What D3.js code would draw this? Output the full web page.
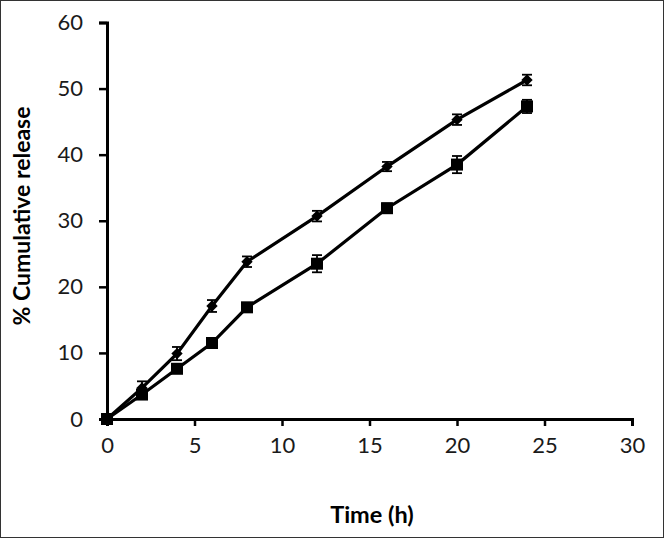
<!DOCTYPE html>
<html><head><meta charset="utf-8">
<script src="https://cdn.jsdelivr.net/npm/d3@7"></script>
<style>body{margin:0;background:#fff}svg{display:block}</style>
</head><body>
<script>
const times = [0, 2, 4, 6, 8, 12, 16, 20, 24];
const seriesA = [0, 4.7, 9.9, 17.1, 23.8, 30.7, 38.2, 45.3, 51.3];
const errA = [0.3, 1.0, 1.0, 0.9, 0.8, 0.8, 0.7, 0.8, 0.8];
const seriesB = [0, 3.7, 7.6, 11.5, 16.9, 23.5, 31.9, 38.5, 47.3];
const errB = [0.3, 0.4, 0.4, 0.5, 0.5, 1.3, 0.7, 1.3, 1.0];
const xTicks = [0, 5, 10, 15, 20, 25, 30];
const yTicks = [0, 10, 20, 30, 40, 50, 60];

const W = 664, H = 538;
const svg = d3.select("body").append("svg").attr("width", W).attr("height", H);
svg.append("rect").attr("x",0.5).attr("y",0.5).attr("width",W-1).attr("height",H-1)
  .attr("fill","#fff").attr("stroke","#333").attr("stroke-width",1);

const x = d3.scaleLinear().domain([0,30]).range([107,632]);
const y = d3.scaleLinear().domain([0,60]).range([419,22.5]);
const font = "Lato, 'Open Sans', sans-serif";

const xAxis = svg.append("g").attr("transform",`translate(0,${y(0)})`)
  .call(d3.axisBottom(x).tickValues(xTicks).tickSize(7).tickSizeOuter(7).tickPadding(11));
const yAxis = svg.append("g").attr("transform",`translate(${x(0)},0)`)
  .call(d3.axisLeft(y).tickValues(yTicks).tickSize(8).tickSizeOuter(8).tickPadding(16));
[xAxis,yAxis].forEach(a=>{
  a.select(".domain").attr("stroke","#000").attr("stroke-width",3);
  a.selectAll(".tick line").attr("stroke","#000").attr("stroke-width",2.5);
  a.selectAll(".tick text").attr("font-family",font).attr("font-size",22).attr("fill","#1a1a1a");
});
xAxis.selectAll(".tick line").attr("y1",0);
yAxis.selectAll(".tick line").attr("x1",0);

svg.append("text").attr("x",372).attr("y",523).attr("text-anchor","middle")
  .attr("font-family",font).attr("font-weight","bold").attr("font-size",23.5).text("Time (h)");
svg.append("text").attr("transform","translate(30,216) rotate(-90)").attr("text-anchor","middle")
  .attr("font-family",font).attr("font-weight","bold").attr("font-size",23).text("% Cumulative release");

const line = d3.line().x(d=>x(d[0])).y(d=>y(d[1]));
function drawSeries(vals, errs, shape){
  const pts = times.map((t,i)=>[t, vals[i], errs[i]]);
  svg.append("path").datum(pts).attr("d",line).attr("fill","none")
    .attr("stroke","#000").attr("stroke-width",3.2);
  const g = svg.append("g");
  pts.forEach(p=>{
    const cx = x(p[0]), lo = y(p[1]-p[2]), hi = y(p[1]+p[2]);
    g.append("line").attr("x1",cx).attr("x2",cx).attr("y1",lo).attr("y2",hi).attr("stroke","#000").attr("stroke-width",1.8);
    g.append("line").attr("x1",cx-5).attr("x2",cx+5).attr("y1",lo).attr("y2",lo).attr("stroke","#000").attr("stroke-width",1.8);
    g.append("line").attr("x1",cx-5).attr("x2",cx+5).attr("y1",hi).attr("y2",hi).attr("stroke","#000").attr("stroke-width",1.8);
    if(shape==="diamond"){
      g.append("path").attr("d",d3.symbol(d3.symbolSquare, 64)()).attr("transform",`translate(${cx},${y(p[1])}) rotate(45)`).attr("fill","#000");
    } else {
      g.append("rect").attr("x",cx-6).attr("y",y(p[1])-6).attr("width",12).attr("height",12).attr("fill","#000");
    }
  });
}
drawSeries(seriesB, errB, "square");
drawSeries(seriesA, errA, "diamond");
</script>
</body></html>
